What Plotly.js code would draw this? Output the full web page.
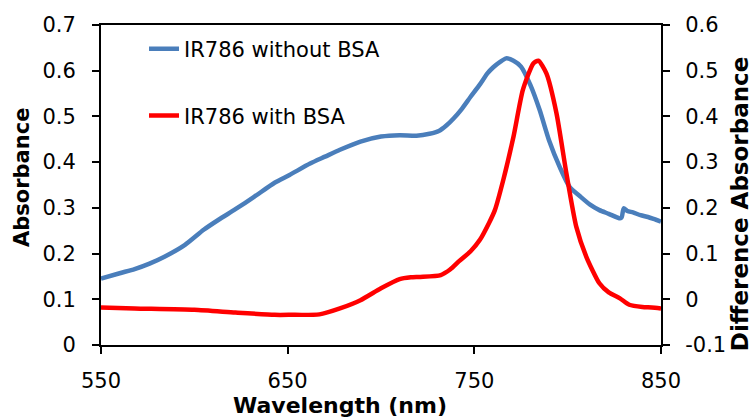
<!DOCTYPE html>
<html>
<head>
<meta charset="utf-8">
<script src="https://cdn.plot.ly/plotly-3.0.1.min.js"></script>
<style>html,body{margin:0;padding:0;background:#fff;}#chart{width:753px;height:419px;}</style>
</head>
<body>
<div id="chart"></div>
<script>
// Wavelength (nm) and absorbance, IR786 without BSA (left axis)
const blueWavelength = [550, 560, 568, 576, 584, 595, 605, 613, 622, 632, 643, 651, 662, 670, 678, 689, 700, 710, 719, 726, 731, 735, 739, 743, 748, 753, 757, 760, 764, 767, 771, 775, 780, 785, 790, 796, 801, 807, 812, 817, 822, 828, 829, 830, 832, 835, 839, 843, 846, 850];
const blueAbsorbance = [0.145, 0.157, 0.166, 0.178, 0.193, 0.219, 0.252, 0.274, 0.297, 0.324, 0.355, 0.372, 0.397, 0.412, 0.427, 0.445, 0.456, 0.459, 0.458, 0.462, 0.468, 0.480, 0.496, 0.515, 0.543, 0.570, 0.594, 0.607, 0.620, 0.627, 0.622, 0.609, 0.569, 0.514, 0.448, 0.387, 0.346, 0.324, 0.307, 0.295, 0.287, 0.277, 0.280, 0.299, 0.293, 0.290, 0.284, 0.280, 0.276, 0.270];

// Wavelength (nm) and difference absorbance, IR786 with BSA (right axis)
const redWavelength = [550, 568, 600, 622, 643, 651, 667, 678, 689, 700, 710, 716, 721, 732, 737, 742, 748, 753, 758, 761, 765.5, 771, 776, 781.6, 784.3, 788.6, 794, 799.3, 804.6, 810, 817, 822, 828, 833, 840, 845, 850];
const redDifference = [-0.018, -0.020, -0.023, -0.029, -0.034, -0.034, -0.033, -0.020, -0.002, 0.024, 0.044, 0.048, 0.049, 0.053, 0.065, 0.084, 0.105, 0.130, 0.168, 0.195, 0.261, 0.356, 0.458, 0.516, 0.522, 0.494, 0.407, 0.276, 0.159, 0.093, 0.035, 0.015, 0.002, -0.012, -0.017, -0.018, -0.020];

const xTicks = [550, 650, 750, 850];
const leftTicks = [0, 0.1, 0.2, 0.3, 0.4, 0.5, 0.6, 0.7];
const leftTickText = ['0', '0.1', '0.2', '0.3', '0.4', '0.5', '0.6', '0.7'];
const rightTicks = [-0.1, 0, 0.1, 0.2, 0.3, 0.4, 0.5, 0.6];
const rightTickText = ['-0.1', '0', '0.1', '0.2', '0.3', '0.4', '0.5', '0.6'];

const seriesNames = ['IR786 without BSA', 'IR786 with BSA'];
const xTitle = 'Wavelength (nm)';
const yTitle = 'Absorbance';
const y2Title = 'Difference Absorbance';

const FONT = '"DejaVu Sans", sans-serif';

const traces = [
  {
    x: blueWavelength, y: blueAbsorbance, name: seriesNames[0],
    type: 'scatter', mode: 'lines', yaxis: 'y', legend: 'legend',
    line: {color: '#4a7ebb', width: 4.5, shape: 'spline', smoothing: 0.6}
  },
  {
    x: redWavelength, y: redDifference, name: seriesNames[1],
    type: 'scatter', mode: 'lines', yaxis: 'y2', legend: 'legend2',
    line: {color: '#ff0000', width: 4.5, shape: 'spline', smoothing: 0.6}
  }
];

const axisCommon = {
  showgrid: false, zeroline: false, showline: true, linecolor: '#000', linewidth: 2,
  ticks: 'outside', ticklen: 7, tickwidth: 2, tickcolor: '#000',
  tickfont: {family: FONT, size: 21, color: '#000'}
};

const titleFont = {family: FONT, size: 21, color: '#000', weight: 'bold'};

const layout = {
  width: 753, height: 419,
  margin: {l: 101, r: 92, t: 25, b: 74},
  paper_bgcolor: '#fff', plot_bgcolor: '#fff',
  font: {family: FONT, color: '#000'},
  xaxis: Object.assign({}, axisCommon, {
    range: [550, 850], tickmode: 'array', tickvals: xTicks, mirror: true,
    ticklabelstandoff: 9
  }),
  yaxis: Object.assign({}, axisCommon, {
    range: [0, 0.7], tickmode: 'array', tickvals: leftTicks, ticktext: leftTickText,
    ticklabelstandoff: 12
  }),
  yaxis2: Object.assign({}, axisCommon, {
    range: [-0.1, 0.6], tickmode: 'array', tickvals: rightTicks, ticktext: rightTickText,
    overlaying: 'y', side: 'right', ticklabelstandoff: 11
  }),
  annotations: [
    {text: xTitle, xref: 'paper', yref: 'paper', x: 0.427, y: -0.19,
     xanchor: 'center', yanchor: 'middle', showarrow: false,
     font: Object.assign({}, titleFont, {size: 22})},
    {text: yTitle, xref: 'paper', yref: 'paper', x: -0.141, y: 0.522, textangle: -90,
     xanchor: 'center', yanchor: 'middle', showarrow: false, font: titleFont},
    {text: y2Title, xref: 'paper', yref: 'paper', x: 1.141, y: 0.44, textangle: -90,
     xanchor: 'center', yanchor: 'middle', showarrow: false,
     font: Object.assign({}, titleFont, {size: 23})}
  ],
  legend: {x: 0.0768, y: 0.925, xanchor: 'left', yanchor: 'middle', bgcolor: 'rgba(0,0,0,0)',
    font: {family: FONT, size: 21, color: '#000'}},
  legend2: {x: 0.0768, y: 0.716, xanchor: 'left', yanchor: 'middle', bgcolor: 'rgba(0,0,0,0)',
    font: {family: FONT, size: 21, color: '#000'}},
  showlegend: true
};

Plotly.newPlot('chart', traces, layout, {displayModeBar: false, staticPlot: true});
</script>
</body>
</html>
